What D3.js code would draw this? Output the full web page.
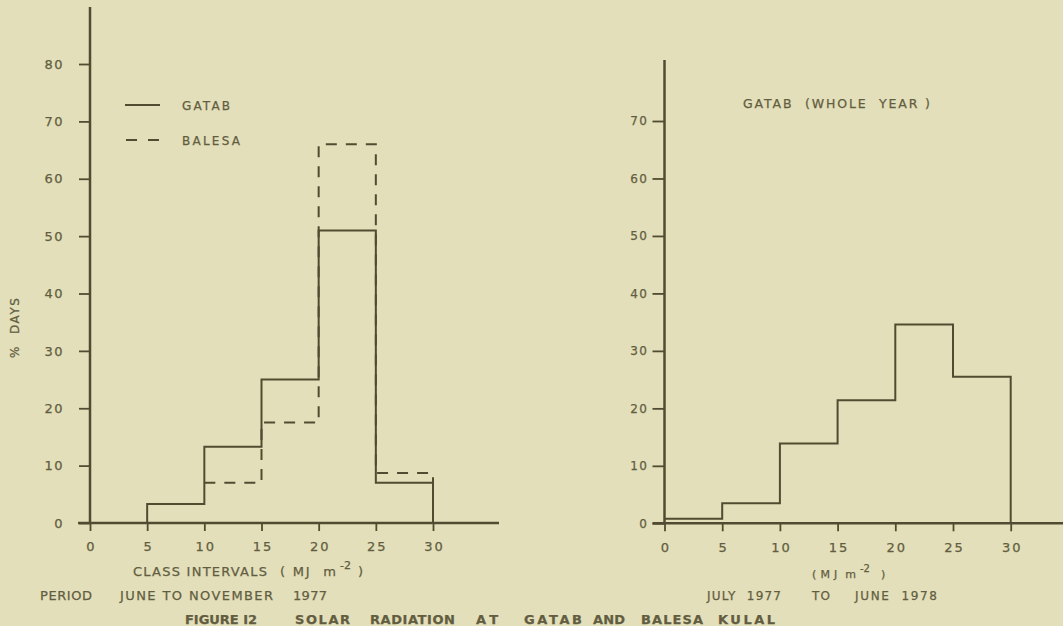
<!DOCTYPE html>
<html>
<head>
<meta charset="utf-8">
<script src="https://cdn.jsdelivr.net/npm/d3@7"></script>
<style>
  body { margin: 0; background: #e3dfba; }
  svg { display: block; }
  text { font-family: "DejaVu Sans", sans-serif; fill: #625d40; stroke: #625d40; stroke-width: 0.25px; }
</style>
</head>
<body>
<svg width="1063" height="626"></svg>
<script>
// class interval edges (MJ m-2)
var edges = [0, 5, 10, 15, 20, 25, 30];
// % days per class, June to November 1977
var gatabPeriod = [0, 3.3, 13.3, 25, 51, 7];
var balesaPeriod = [0, 0, 7, 17.5, 66, 8.7];
// % days per class, July 1977 to June 1978
var gatabYear = [0.8, 3.5, 13.9, 21.4, 34.6, 25.5];

var xTicks = [0, 5, 10, 15, 20, 25, 30];
var yTicksLeft = [0, 10, 20, 30, 40, 50, 60, 70, 80];
var yTicksRight = [0, 10, 20, 30, 40, 50, 60, 70];

var ink = "#514c31";
var svg = d3.select("svg");

// turn bin values into step points, ends back on the axis
function steps(vals) {
  var pts = [];
  vals.forEach(function(v, i) { pts.push([edges[i], v]); });
  pts.push([edges[edges.length - 1], 0]);
  return pts;
}

function panel(o) {
  var g = svg.append("g");
  var x = d3.scaleLinear().domain([0, 30]).range(o.xr);
  var y = d3.scaleLinear().domain([0, o.ymax]).range(o.yr);

  // axis lines
  g.append("line")
    .attr("x1", o.xr[0] - 12).attr("x2", o.xEnd)
    .attr("y1", y(0)).attr("y2", y(0))
    .attr("stroke", ink).attr("stroke-width", 2.5);
  g.append("line")
    .attr("x1", x(0)).attr("x2", x(0))
    .attr("y1", y(0)).attr("y2", o.yTop)
    .attr("stroke", ink).attr("stroke-width", 2.5);

  var xa = g.append("g")
    .attr("transform", "translate(0," + y(0) + ")")
    .call(d3.axisBottom(x).tickValues(xTicks).tickSize(8).tickPadding(11).tickSizeOuter(0));
  xa.select(".domain").remove();
  xa.selectAll("line").attr("stroke", ink).attr("stroke-width", 1.8);
  xa.selectAll("text").style("font-size", "13px").style("letter-spacing", "2px")
    .attr("dx", "1px").attr("fill", "#625d40");

  var ya = g.append("g")
    .attr("transform", "translate(" + x(0) + ",0)")
    .call(d3.axisLeft(y).tickValues(o.yTicks).tickSize(o.tick).tickPadding(o.pad).tickSizeOuter(0));
  ya.select(".domain").remove();
  ya.selectAll("line").attr("stroke", ink).attr("stroke-width", 1.8);
  ya.selectAll("text").style("font-size", o.fs).style("letter-spacing", "1.5px")
    .attr("fill", "#625d40");

  var line = d3.line()
    .x(function(d) { return x(d[0]); })
    .y(function(d) { return y(d[1]); })
    .curve(d3.curveStepAfter);

  o.series.forEach(function(s) {
    var pts = steps(s.values);
    // dashed series starts at its first filled class
    if (s.dash) pts = pts.filter(function(d, i) { return i >= 2; });
    g.append("path")
      .attr("d", line(pts))
      .attr("fill", "none")
      .attr("stroke", ink)
      .attr("stroke-width", 2)
      .attr("stroke-dasharray", s.dash || null);
  });
  return g;
}

panel({
  xr: [90, 433], yr: [523, 64], ymax: 80, xEnd: 499, yTop: 7, tick: 11, pad: 15, fs: "13px",
  yTicks: yTicksLeft,
  series: [
    { values: balesaPeriod, dash: "11,9" },
    { values: gatabPeriod }
  ]
});

panel({
  xr: [664.5, 1010.7], yr: [523.3, 121], ymax: 70, xEnd: 1063, yTop: 60, tick: 12, pad: 4, fs: "12px",
  yTicks: yTicksRight,
  series: [ { values: gatabYear } ]
});

// legend
svg.append("line").attr("x1", 125).attr("x2", 160).attr("y1", 105).attr("y2", 105)
  .attr("stroke", ink).attr("stroke-width", 1.8);
svg.append("line").attr("x1", 126).attr("x2", 160).attr("y1", 140).attr("y2", 140)
  .attr("stroke", ink).attr("stroke-width", 1.8).attr("stroke-dasharray", "11,11");

function label(str, x, y, size, w, weight) {
  var t = svg.append("text")
    .attr("x", x).attr("y", y)
    .style("font-size", size + "px")
    .style("font-weight", weight || "normal")
    .style("white-space", "pre")
    .text(str);
  if (w) t.attr("textLength", w).attr("lengthAdjust", "spacing");
  return t;
}

label("GATAB", 182, 110, 12, 48);
label("BALESA", 182, 145, 12, 58);
label("GATAB  (WHOLE  YEAR )", 743, 108, 12.5, 187);

// y title
svg.append("text")
  .attr("transform", "translate(19,328) rotate(-90)")
  .attr("text-anchor", "middle")
  .attr("textLength", 60).attr("lengthAdjust", "spacing")
  .style("font-size", "12px")
  .style("white-space", "pre")
  .text("%  DAYS");

// x titles
label("CLASS INTERVALS", 133, 576, 13, 134);
label("( MJ  m", 280, 576, 13, 56);
label("-2", 340, 569, 11);
label(")", 358, 576, 13);

label("( M J  m", 812, 578, 11, 44);
label("-2", 860, 572, 10);
label(")", 881, 578, 11);

label("PERIOD", 40, 600, 13, 52);
label("JUNE TO NOVEMBER", 120, 600, 13, 153);
label("1977", 293, 600, 13, 34);
label("JULY  1977", 707, 600, 12, 74);
label("TO", 812, 600, 12, 18);
label("JUNE  1978", 855, 600, 12, 82);

// figure caption
var words = [["FIGURE I2", 185, 72], ["SOLAR", 295, 55], ["RADIATION", 370, 85], ["AT", 476, 22],
             ["GATAB", 524, 58], ["AND", 593, 32], ["BALESA", 641, 62], ["KULAL", 718, 57]];
words.forEach(function(w) {
  label(w[0], w[1], 624, 13, w[2], "bold");
});
</script>
</body>
</html>
